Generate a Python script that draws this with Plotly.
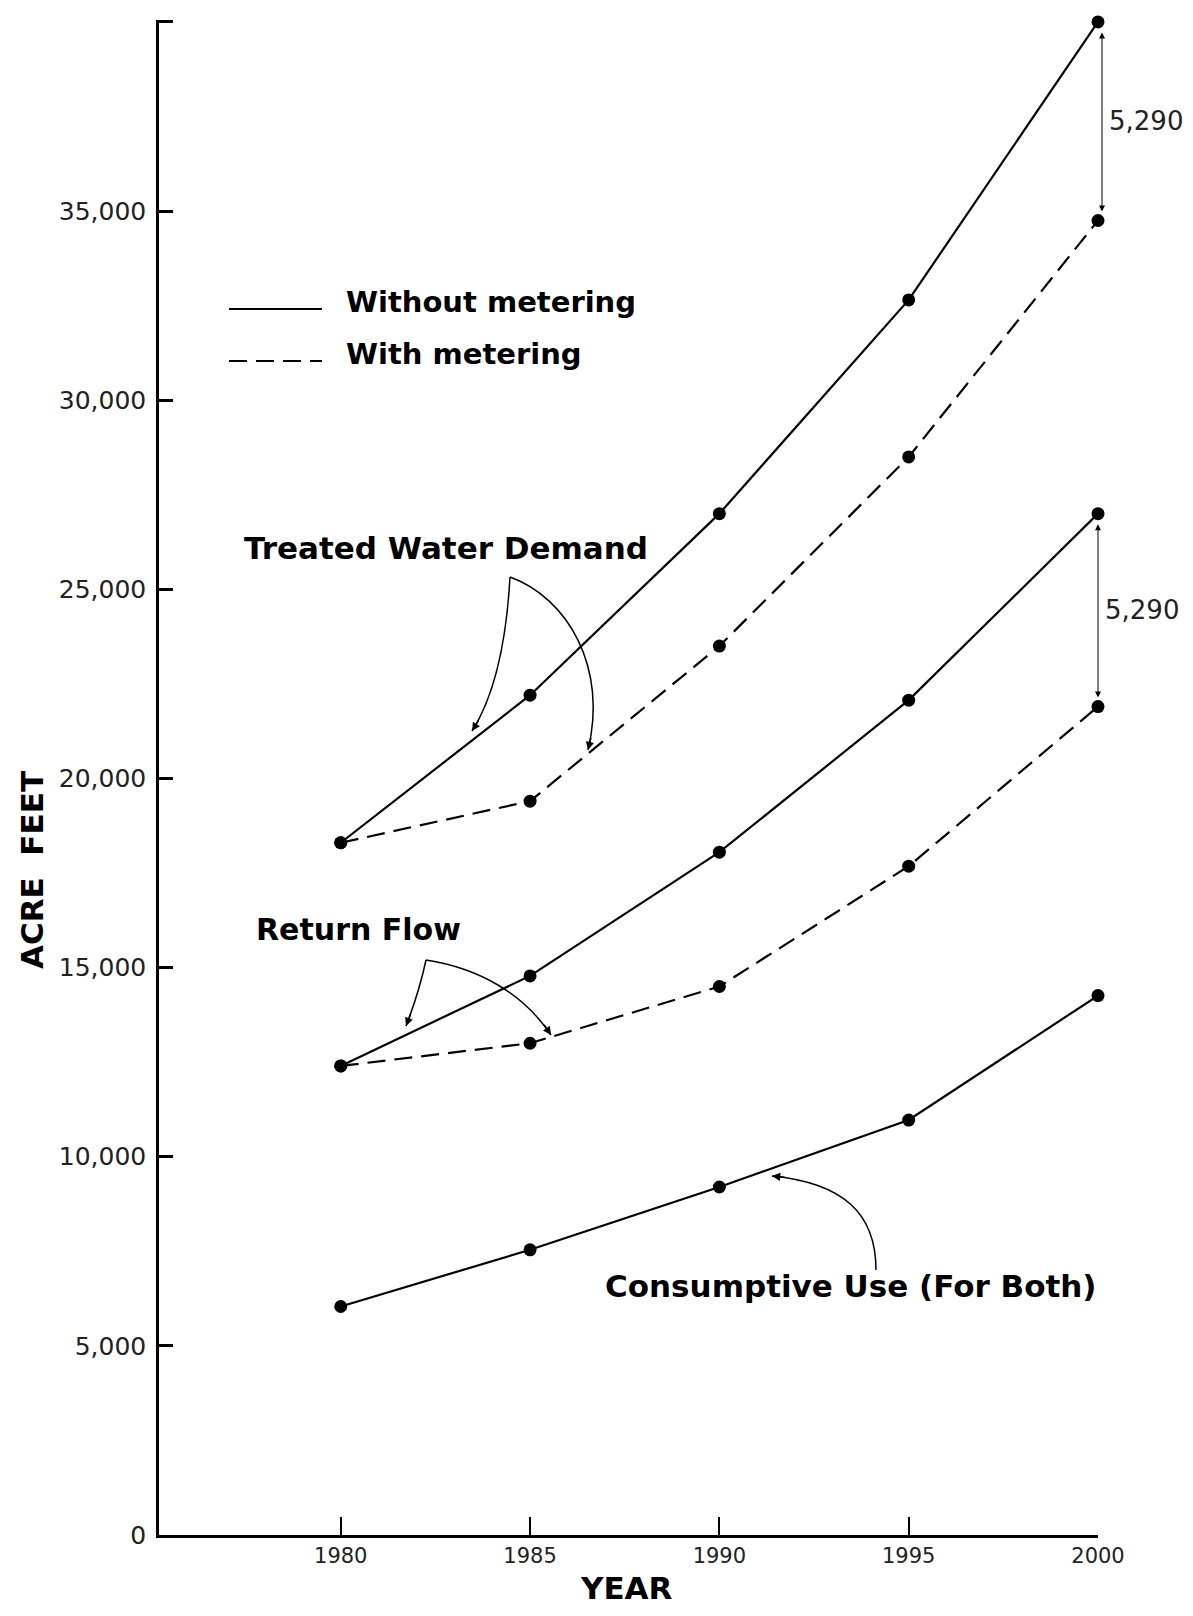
import plotly.graph_objects as go

# ---------------- data ----------------
years = [1980, 1985, 1990, 1995, 2000]
treated_without = [18300, 22200, 27000, 32650, 40000]
treated_with = [18300, 19400, 23500, 28500, 34750]
return_without = [12400, 14780, 18050, 22070, 27000]
return_with = [12400, 13000, 14500, 17680, 21900]
consumptive = [6040, 7540, 9200, 10970, 14260]

y_tickvals = [0, 5000, 10000, 15000, 20000, 25000, 30000, 35000, 40000]
y_ticktext = ["0", "5,000", "10,000", "15,000", "20,000", "25,000", "30,000", "35,000", ""]
x_tickvals = [1980, 1985, 1990, 1995, 2000]
x_ticktext = ["1980", "1985", "1990", "1995", "2000"]
gap_labels = ["5,290", "5,290"]

# ---------------- layout geometry ----------------
W, H = 1193, 1616
L, R, T, B = 151, 103, 12, 89
PW, PH = W - L - R, H - T - B


def pp(px, py):
    """figure pixel -> paper coordinates"""
    return (px - L) / PW, (H - B - py) / PH


BOLD = "DejaVu Sans"
THIN = "DejaVu Sans"

fig = go.Figure()

line_w = 2.2
mk = dict(size=13, color="black")

series = [
    (treated_without, "solid"),
    (treated_with, "18px,9px"),
    (return_without, "solid"),
    (return_with, "18px,9px"),
    (consumptive, "solid"),
]
for vals, dash in series:
    fig.add_trace(go.Scatter(
        x=years, y=vals, mode="lines+markers",
        line=dict(color="black", width=line_w, dash=dash),
        marker=mk, cliponaxis=False, showlegend=False, hoverinfo="skip",
    ))

shapes = []
annotations = []

# legend (drawn)
for py, dash, label in [(301, "solid", "Without metering"), (353, "dash", "With metering")]:
    x0, y0 = pp(221, py)
    x1, _ = pp(314, py)
    shapes.append(dict(type="line", xref="paper", yref="paper", x0=x0, y0=y0, x1=x1, y1=y0,
                       line=dict(color="black", width=2, dash="18px,9px" if dash == "dash" else "solid")))
    tx, ty = pp(336, py - 7)
    annotations.append(dict(xref="paper", yref="paper", x=tx, y=ty, text=label, showarrow=False,
                            xanchor="left", yanchor="middle",
                            font=dict(family=BOLD, size=29, color="black", weight="bold")))


def curve(points):
    (sx, sy), (c1x, c1y), (c2x, c2y), (ex, ey) = [pp(*p) for p in points]
    return f"M {sx},{sy} C {c1x},{c1y} {c2x},{c2y} {ex},{ey}"


def curved_arrow(p0, c1, c2, p1):
    shapes.append(dict(type="path", xref="paper", yref="paper", path=curve([p0, c1, c2, p1]),
                       line=dict(color="black", width=1.5)))
    dx, dy = c2[0] - p1[0], c2[1] - p1[1]
    n = (dx * dx + dy * dy) ** 0.5
    hx, hy = pp(*p1)
    annotations.append(dict(xref="paper", yref="paper", x=hx, y=hy, ax=dx / n * 14, ay=dy / n * 14,
                            text="", showarrow=True, arrowhead=2, arrowsize=1.1, arrowwidth=1.5,
                            arrowcolor="black"))


# callout labels
for text, cx, cy, fs in [("Treated Water Demand", 438, 540, 31), ("Return Flow", 350, 921, 30),
                         ("Consumptive Use (For Both)", 843, 1278, 31)]:
    x, y = pp(cx, cy)
    annotations.append(dict(xref="paper", yref="paper", x=x, y=y, text=text, showarrow=False,
                            xanchor="center", yanchor="middle",
                            font=dict(family=BOLD, size=fs, color="black", weight="bold")))

curved_arrow((502, 569), (498, 640), (485, 690), (464, 723))
curved_arrow((502, 569), (560, 590), (600, 660), (580, 742))
curved_arrow((418, 952), (412, 980), (405, 1000), (398, 1018))
curved_arrow((418, 952), (470, 960), (515, 985), (543, 1027))
curved_arrow((868, 1262), (868, 1205), (835, 1175), (764, 1168))

# gap arrows (data coordinates)
for top, bottom, lab, xs in [(treated_without[-1], treated_with[-1], gap_labels[0], 4),
                             (return_without[-1], return_with[-1], gap_labels[1], 0)]:
    annotations.append(dict(x=years[-1], y=bottom, ax=years[-1], ay=top, xshift=xs,
                            xref="x", yref="y", axref="x", ayref="y", text="", showarrow=True,
                            arrowhead=2, startarrowhead=2, arrowside="end+start",
                            arrowsize=1.2, startarrowsize=1.2, arrowwidth=1, arrowcolor="black",
                            standoff=9, startstandoff=9))
    annotations.append(dict(x=years[-1], y=(top + bottom) / 2, xref="x", yref="y", text=lab,
                            showarrow=False, xanchor="left", yanchor="middle", xshift=5 + xs,
                            font=dict(family=THIN, size=26, color="#222")))

# axis titles
x, y = pp(24, 862)
annotations.append(dict(xref="paper", yref="paper", x=x, y=y, text="ACRE  FEET", textangle=-90,
                        showarrow=False, xanchor="center", yanchor="middle",
                        font=dict(family=BOLD, size=31, color="black", weight="bold")))
x, y = pp(618, 1580)
annotations.append(dict(xref="paper", yref="paper", x=x, y=y, text="YEAR",
                        showarrow=False, xanchor="center", yanchor="middle",
                        font=dict(family=BOLD, size=31, color="black", weight="bold")))

fig.update_layout(
    width=W, height=H,
    margin=dict(l=L, r=R, t=T, b=B),
    paper_bgcolor="white", plot_bgcolor="white",
    shapes=shapes, annotations=annotations,
    showlegend=False,
)
fig.update_xaxes(range=[1975.2, 2000], tickvals=x_tickvals, ticktext=x_ticktext,
                 ticks="inside", ticklen=18, tickwidth=1.5, tickcolor="black",
                 showline=True, linecolor="black", linewidth=3, showgrid=False, zeroline=False,
                 tickfont=dict(family=THIN, size=21, color="#222"))
fig.update_yaxes(range=[0, 40050], tickvals=y_tickvals, ticktext=y_ticktext,
                 ticks="inside", ticklen=14, tickwidth=2.5, tickcolor="black",
                 showline=True, linecolor="black", linewidth=2.5, showgrid=False, zeroline=False,
                 ticklabelstandoff=5,
                 tickfont=dict(family=THIN, size=25, color="#222"))

fig.write_html("out.html")
